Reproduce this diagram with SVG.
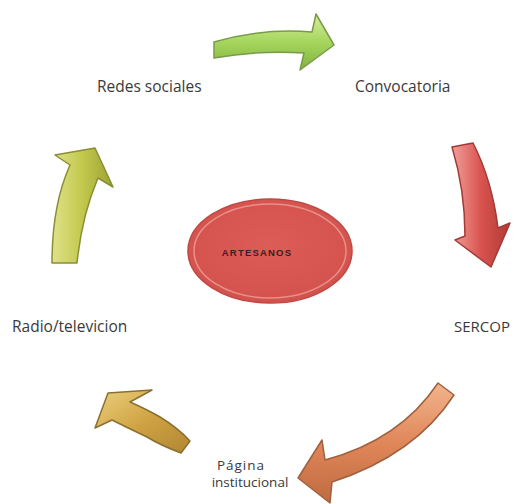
<svg xmlns="http://www.w3.org/2000/svg" width="519" height="504" viewBox="0 0 519 504">
<defs>
<linearGradient id="gGreen" x1="0" y1="0" x2="0" y2="1"><stop offset="0" stop-color="#d3ee9c"/><stop offset="0.5" stop-color="#a6d65e"/><stop offset="1" stop-color="#7fb23e"/></linearGradient>
<linearGradient id="gRed" x1="0" y1="0" x2="1" y2="0"><stop offset="0" stop-color="#f0a09a"/><stop offset="0.5" stop-color="#d9534f"/><stop offset="1" stop-color="#b03a36"/></linearGradient>
<linearGradient id="gOrange" x1="0" y1="0" x2="0" y2="1"><stop offset="0" stop-color="#f2b48c"/><stop offset="0.5" stop-color="#e0875a"/><stop offset="1" stop-color="#c06a40"/></linearGradient>
<linearGradient id="gGold" x1="0" y1="0" x2="1" y2="1"><stop offset="0" stop-color="#ecd080"/><stop offset="0.5" stop-color="#d0a444"/><stop offset="1" stop-color="#b08632"/></linearGradient>
<linearGradient id="gYel" x1="0" y1="0" x2="1" y2="0"><stop offset="0" stop-color="#dfe28a"/><stop offset="0.5" stop-color="#c2c84c"/><stop offset="1" stop-color="#9ea234"/></linearGradient>
<radialGradient id="gEll" cx="0.5" cy="0.45" r="0.6"><stop offset="0" stop-color="#dc5c56"/><stop offset="0.85" stop-color="#d5534e"/><stop offset="1" stop-color="#c84e49"/></radialGradient>
</defs>
<style>
.lbl{font-family:"Open Sans","Liberation Sans",sans-serif;font-size:15.5px;fill:#3a3a3a}
.sm{font-size:13.5px}
.arrow{stroke-width:1.5;stroke-linejoin:round}
</style>
<rect width="519" height="504" fill="#ffffff"/>
<g id="connectors">
<path class="arrow" d="M214,42 Q262,28 312,32 L316,14 L334,45 L300,70 L304,53 Q260,50 214,58 Z" fill="url(#gGreen)" stroke="#7a9a48"/>
<path class="arrow" d="M452,147 L473,143 Q492,180 498,228 L510,223 L491,267 L455,240 L465,236 Q465,190 452,147 Z" fill="url(#gRed)" stroke="#a23a36"/>
<path class="arrow" d="M438,383 L454,395 Q415,455 332,482 L330,503 L298,478 L322,440 L325,460 Q400,440 438,383 Z" fill="url(#gOrange)" stroke="#a0603e"/>
<path class="arrow" d="M190,441 L181,453 Q160,445 147,437 Q128,428 112,420 L95,428 L108,393 L152,390 L130,402 Q148,410 160,417 Q178,428 190,441 Z" fill="url(#gGold)" stroke="#8a7030"/>
<path class="arrow" d="M52,263 Q52,205 70,165 L55,155 L95,148 L113,187 L98,178 Q82,215 77,263 Z" fill="url(#gYel)" stroke="#8a8e34"/>
</g>
<g id="artesanos">
<ellipse cx="270" cy="251" rx="82" ry="52" fill="url(#gEll)" stroke="#c04843" stroke-width="1.5"/>
<ellipse cx="270" cy="251" rx="76" ry="47" fill="none" stroke="#e8908a" stroke-width="1.5"/>
<text x="257" y="256" text-anchor="middle" font-family="'Liberation Sans',Arial,sans-serif" font-size="9.5" font-weight="bold" letter-spacing="1.2" fill="#3a2020">ARTESANOS</text>
</g>
<g id="redes"><text class="lbl" x="97" y="92">Redes sociales</text></g>
<g id="convocatoria"><text class="lbl" x="355" y="92">Convocatoria</text></g>
<g id="sercop"><text class="lbl" x="454" y="332" style="font-size:15px">SERCOP</text></g>
<g id="radio"><text class="lbl" x="12" y="332">Radio/televicion</text></g>
<g id="pagina"><text class="lbl sm" x="241" y="470" text-anchor="middle" letter-spacing="1">Página</text><text class="lbl sm" x="250" y="487" text-anchor="middle">institucional</text></g>
</svg>
